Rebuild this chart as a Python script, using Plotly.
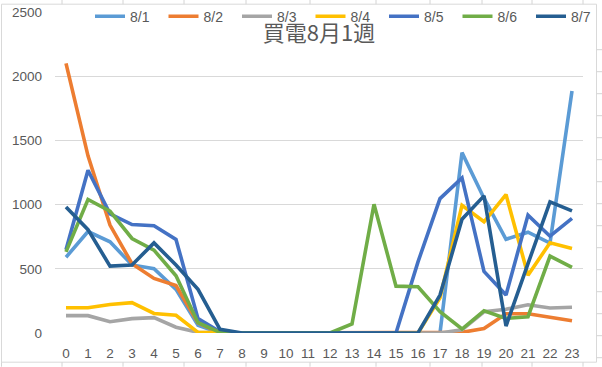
import plotly.graph_objects as go

hours = [str(h) for h in range(24)]

s_81 = [590, 790, 710, 530, 500, 340, 60, 0, 0, 0, 0, 0, 0, 0, 0, 0, 0, 0, 1405, 1050, 730, 785, 700, 1885]
s_82 = [2100, 1380, 840, 540, 425, 370, 80, 0, 0, 0, 0, 0, 0, 0, 0, 0, 0, 0, 5, 35, 150, 150, 125, 95]
s_83 = [135, 135, 88, 112, 120, 45, 5, 0, 0, 0, 0, 0, 0, 0, 0, 0, 0, 0, 25, 165, 185, 220, 195, 200]
s_84 = [197, 197, 222, 236, 152, 138, 5, 0, 0, 0, 0, 0, 0, 0, 0, 0, 0, 275, 995, 866, 1078, 450, 702, 659]
s_85 = [648, 1268, 928, 845, 835, 729, 112, 10, 0, 0, 0, 0, 0, 0, 0, 0, 554, 1047, 1208, 480, 296, 918, 754, 892]
s_86 = [632, 1040, 949, 736, 645, 446, 80, 5, 0, 0, 0, 0, 0, 70, 1003, 365, 360, 166, 31, 173, 114, 127, 599, 511]
s_87 = [982, 805, 521, 530, 702, 529, 340, 29, 0, 0, 0, 0, 0, 0, 0, 0, 0, 295, 886, 1068, 54, 540, 1021, 951]

series_names = ["8/1", "8/2", "8/3", "8/4", "8/5", "8/6", "8/7"]
series_vals = [s_81, s_82, s_83, s_84, s_85, s_86, s_87]
colors = ["#5B9BD5", "#ED7D31", "#A5A5A5", "#FFC000", "#4472C4", "#70AD47", "#255E91"]

y_ticks = [0, 500, 1000, 1500, 2000, 2500]

W, H = 602, 367
L, R, T, B = 55, 583, 12.3, 333.3

def px(x):
    return (x - L) / (R - L)

def py(y):
    return (B - y) / (B - T)

fig = go.Figure()
for name, vals, c in zip(series_names, series_vals, colors):
    fig.add_trace(go.Scatter(x=hours, y=vals, name=name, mode="lines",
                             line=dict(color=c, width=3.6)))

grid_col = "#D9D9D9"
font_col = "#595959"

shapes = []
# chart border
shapes.append(dict(type="rect", xref="paper", yref="paper",
                   x0=px(1.5), x1=px(596.5), y0=py(362.5), y1=py(4.5),
                   line=dict(color="#D9D9D9", width=1), layer="below"))
# spreadsheet grid ticks outside the chart
for cx in [62, 123, 184, 246, 310, 376, 430, 482, 532, 583]:
    shapes.append(dict(type="line", xref="paper", yref="paper",
                       x0=px(cx), x1=px(cx), y0=py(0), y1=py(4.5),
                       line=dict(color="#D4D4D4", width=1)))
    shapes.append(dict(type="line", xref="paper", yref="paper",
                       x0=px(cx), x1=px(cx), y0=py(362.5), y1=py(367),
                       line=dict(color="#D4D4D4", width=1)))
shapes.append(dict(type="line", xref="paper", yref="paper",
                   x0=px(1.5), x1=px(1.5), y0=py(362.5), y1=py(367),
                   line=dict(color="#D4D4D4", width=1)))
for ry in [50, 72, 94, 116, 138, 160, 182, 204, 226, 248, 270, 292, 314, 336, 358]:
    shapes.append(dict(type="line", xref="paper", yref="paper",
                       x0=px(596.5), x1=px(602), y0=py(ry), y1=py(ry),
                       line=dict(color="#D4D4D4", width=1)))

fig.update_layout(
    width=W, height=H,
    margin=dict(l=L, r=W - R, t=T, b=H - B, pad=0, autoexpand=False),
    paper_bgcolor="white", plot_bgcolor="white",
    font=dict(family="Liberation Sans, Arial, sans-serif", color=font_col, size=13),
    title=dict(text="買電8月1週", x=0.5, xanchor="center", xref="paper",
               y=1 - 33 / H, yanchor="middle", yref="container",
               font=dict(family="Noto Sans CJK JP", size=22, color=font_col)),
    legend=dict(orientation="h", x=px(90), xanchor="left", y=py(17), yanchor="middle",
                font=dict(size=14, color=font_col), entrywidth=28.5, entrywidthmode="pixels",
                bgcolor="rgba(0,0,0,0)", traceorder="normal"),
    xaxis=dict(type="category", range=[-0.5, 23.5], showgrid=False, zeroline=False,
               showline=False, ticks="", tickfont=dict(size=13.5, color=font_col),
               ticklabelstandoff=10, fixedrange=True, automargin=False),
    yaxis=dict(range=[0, 2500], tickvals=y_ticks, showgrid=True, gridcolor=grid_col,
               gridwidth=1, zeroline=False, showline=False, ticks="",
               tickfont=dict(size=13.5, color=font_col), ticklabelstandoff=12,
               fixedrange=True, automargin=False),
    shapes=shapes,
    showlegend=True,
)

fig.write_html("out.html", config={"displayModeBar": False},
               post_script="document.body.style.margin='0';")
